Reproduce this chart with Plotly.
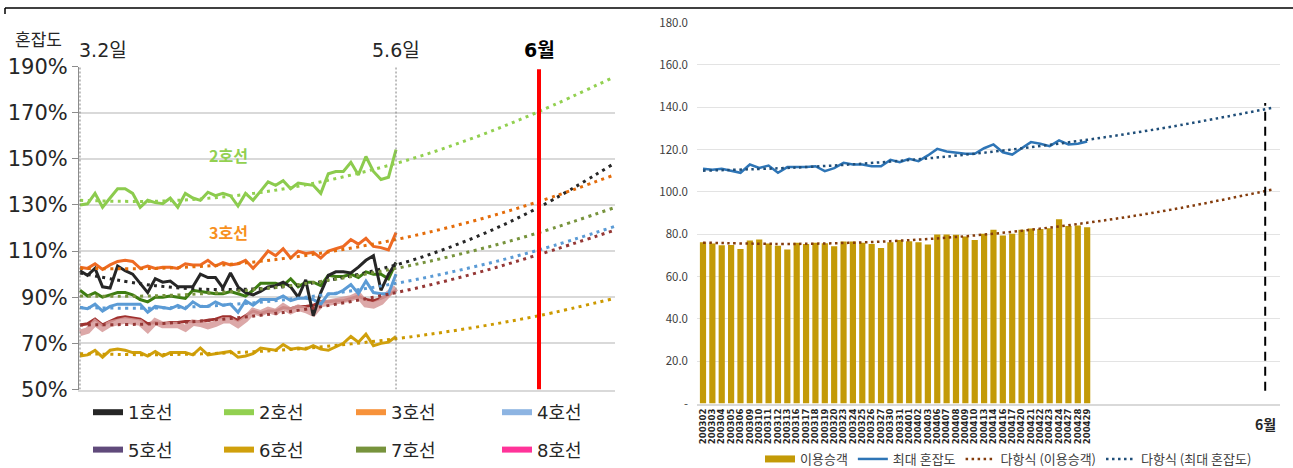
import plotly.graph_objects as go

W, H = 1293, 468

# ---------------- left chart data (혼잡도 by line, 3.2 ~ 5.6) ----------------
line1 = [101.5, 99.5, 102.5, 94.5, 94, 103.5, 101.5, 100, 96, 92, 98, 96.5, 97, 94.5, 94.5, 94.5, 100, 98.5, 98.5, 94,
         100.5, 94.5, 92, 91, 92.5, 94.5, 95, 96.5, 94.5, 90, 97.5, 82, 92, 99.5, 101, 101, 100.5, 103, 106, 108,
         93, 100, 105]
line2 = [130, 130.5, 135, 129, 133, 137, 137, 135, 129, 132, 131, 130.5, 133, 129, 135, 133, 132, 135.5, 134, 135,
         134, 129.5, 135, 132, 136, 140, 138.5, 140.5, 137, 139.5, 139, 138.5, 135, 143.5, 144.5, 144.5, 148.5, 143, 151, 144.5,
         141, 142, 154]
line3 = [103, 102.5, 104.5, 102, 104, 105.5, 106, 105.5, 102.5, 103.5, 102.5, 103, 103, 102.5, 104.5, 104, 104, 106, 103.5, 105,
         104, 104.5, 106, 102.5, 106, 110, 108, 111, 107, 110, 109, 109.5, 107, 110, 111, 112, 115, 113, 115.5, 112,
         111.5, 110.5, 118]
line4 = [85.5, 85, 87, 84, 86, 87, 87, 87, 87, 83.5, 86, 85.5, 85, 86.5, 85, 88, 86, 86, 88, 86.5,
         87, 83.5, 88.5, 86.5, 89, 89, 89, 90.5, 88.5, 89.5, 89.5, 89, 87, 91.5, 91.5, 93, 95.5, 91.5, 97, 92,
         91.5, 91.5, 100]
line5 = [78, 78.5, 80.5, 78, 79.5, 81, 81.5, 81, 80.5, 78.5, 79, 78.5, 79, 79, 79.5, 79.5, 79.5, 80, 80.5, 81.5,
         81.5, 80, 82, 84, 83, 84, 84, 85.5, 85, 86, 86, 86.5, 88, 88, 88.5, 88.5, 89.5, 90.5, 89, 88.5,
         89.5, 91, 93]
line6 = [64.5, 65, 67, 64, 67, 67.5, 67, 66, 66, 64.5, 66.5, 64.5, 66, 66, 66, 65, 68, 65, 65.5, 66,
         66.5, 64, 64.5, 65.5, 68, 67.5, 67, 69.5, 67.5, 68, 67.5, 69, 67.5, 67, 68.5, 70, 73, 70.5, 74, 69,
         70, 70.5, 73]
line7 = [93, 90.5, 92, 90, 91, 92, 92, 91, 89, 88, 90, 90, 90.5, 90, 89.5, 93, 92.5, 92, 91.5, 91.5,
         92.5, 91.5, 90.5, 93, 96, 96, 96, 95, 98, 94.5, 96.5, 96.5, 95, 99.5, 99, 99, 100, 98.5, 101, 100,
         100, 98, 105]
line8 = [74.5, 75.5, 79, 76.5, 78.5, 79, 80, 79.5, 79, 76, 79.5, 78, 78, 78, 76.5, 79, 78.5, 77.5, 78.5, 80,
         80, 78, 80.5, 84, 83, 84.5, 83.5, 86, 84, 85.5, 84.5, 83, 87, 87.5, 88.5, 88.5, 89.5, 91, 87, 86.5,
         88, 91.5, 94]

# polynomial trend lines (다항식), values read at these day positions
left_trend_x = [0, 10, 20, 30, 42, 52, 61, 71]
trend1 = [100.5, 95.0, 93.3, 95.7, 104.0, 115.3, 129.0, 148.0]
trend2 = [132.0, 131.6, 133.8, 138.7, 148.0, 158.7, 170.5, 185.5]
trend3 = [102.5, 102.5, 104.3, 108.1, 115.0, 122.8, 131.5, 143.0]
trend4 = [85.5, 85.3, 86.8, 90.0, 96.0, 102.9, 110.5, 120.6]
trend5 = [78.0, 78.5, 80.8, 84.8, 92.0, 99.9, 108.5, 119.0]
trend6 = [65.5, 65.1, 65.9, 67.9, 72.0, 76.7, 82.0, 89.5]
trend7 = [90.5, 90.6, 92.4, 95.9, 102.5, 109.9, 118.0, 128.8]

left_legend_names = ['1호선', '2호선', '3호선', '4호선', '5호선', '6호선', '7호선', '8호선']
left_yticks = [50, 70, 90, 110, 130, 150, 170, 190]
left_ylabels = ['50%', '70%', '90%', '110%', '130%', '150%', '170%', '190%']
mark_start, mark_end, mark_june = 0, 42, 61

# ---------------- right chart data ----------------
dates = ['200302', '200303', '200304', '200305', '200306', '200309', '200310', '200311', '200312', '200313',
         '200316', '200317', '200318', '200319', '200320', '200323', '200324', '200325', '200326', '200327',
         '200330', '200331', '200401', '200402', '200403', '200406', '200407', '200408', '200409', '200410',
         '200413', '200414', '200416', '200417', '200420', '200421', '200422', '200423', '200424', '200427',
         '200428', '200429']
riders = [76.2, 75.6, 74.8, 74.9, 73.0, 77.0, 77.5, 75.6, 74.5, 72.7, 75.9, 75.4, 75.9, 75.7, 74.3, 76.5, 76.5,
          75.9, 75.4, 73.5, 76.2, 77.2, 76.7, 76.2, 75.1, 79.8, 79.8, 79.7, 78.9, 77.2, 80.2, 82.1, 79.4, 80.2,
          82.1, 82.7, 82.4, 82.8, 87.1, 83.8, 84.1, 83.3]
max_cong = [110.9, 110.4, 110.9, 110.1, 109.0, 112.9, 111.3, 112.4, 109.0, 111.7, 111.7, 111.7, 112.1, 109.8,
            111.2, 113.7, 112.9, 112.9, 112.1, 112.1, 115.1, 114.0, 115.6, 114.5, 117.2, 120.3, 119.1, 118.7,
            118.0, 118.0, 120.6, 122.4, 118.7, 117.6, 120.6, 123.5, 122.7, 121.6, 124.3, 122.4, 122.7, 123.8]
right_trend_x = [0, 10, 20, 30, 41, 50, 61]
riders_trend = [76.0, 75.4, 76.7, 79.8, 85.4, 91.6, 101.3]
cong_trend = [110.0, 111.5, 114.3, 118.5, 124.6, 130.8, 139.9]
right_yticks = [0, 20, 40, 60, 80, 100, 120, 140, 160, 180]
right_ylabels = ['-', '20.0', '40.0', '60.0', '80.0', '100.0', '120.0', '140.0', '160.0', '180.0']
right_legend_names = ['이용승객', '최대 혼잡도', '다항식 (이용승객)', '다항식 (최대 혼잡도)']
june_idx = 60

# ---------------- styling ----------------
COND = "Liberation Sans Narrow, DejaVu Sans, Noto Sans CJK KR, sans-serif"
KR = "Noto Sans CJK KR, Noto Sans, sans-serif"

line_colors = ['#262626', '#8CCB4E', '#EE6A24', '#5B9BD5', '#A0302E', '#D0A00C', '#3E7D12', '#D69A99']
legend_colors = ['#262626', '#92D050', '#F7923A', '#8DB4E2', '#604A7B', '#D0A00C', '#77933C', '#FF3399']
trend_colors = ['#262626', '#92D050', '#E46C0A', '#5B9BD5', '#953735', '#CC9900', '#77933C']

def px(xp):
    return xp / W

def py(yp):
    return 1 - yp / H

fig = go.Figure()

left_x = list(range(len(line1)))
series = [line1, line2, line3, line4, line5, line6, line7, line8]
draw_order = [4, 7, 5, 3, 6, 2, 1, 0]
for k in draw_order:
    width = 6.5 if k == 7 else 3
    fig.add_trace(go.Scatter(x=left_x, y=series[k], mode='lines',
                             line=dict(color=line_colors[k], width=width),
                             opacity=0.85 if k == 7 else 1,
                             showlegend=False, hoverinfo='skip', xaxis='x', yaxis='y'))

trends = [trend1, trend2, trend3, trend4, trend5, trend6, trend7]
for k, tr in enumerate(trends):
    fig.add_trace(go.Scatter(x=left_trend_x, y=tr, mode='lines',
                             line=dict(color=trend_colors[k], width=3, dash='3px,4.5px', shape='spline'),
                             showlegend=False, hoverinfo='skip', xaxis='x', yaxis='y'))

# left legend: four columns, two rows each
col_legends = ['legend', 'legend3', 'legend4', 'legend5']
for k, name in enumerate(left_legend_names):
    fig.add_trace(go.Scatter(x=[None], y=[None], mode='lines', name=name,
                             line=dict(color=legend_colors[k], width=6),
                             legend=col_legends[k % 4], legendgroup=name,
                             xaxis='x', yaxis='y'))

# right chart
idx = list(range(len(dates)))
fig.add_trace(go.Bar(x=idx, y=riders, marker=dict(color='#C39A07', line=dict(width=0)), width=0.66,
                     showlegend=False, hoverinfo='skip', xaxis='x2', yaxis='y2'))
fig.add_trace(go.Scatter(x=idx, y=max_cong, mode='lines', line=dict(color='#2E75B6', width=2.5),
                         showlegend=False, hoverinfo='skip', xaxis='x2', yaxis='y2'))
fig.add_trace(go.Scatter(x=right_trend_x, y=riders_trend, mode='lines',
                         line=dict(color='#843C0C', width=2.5, dash='2.5px,3.5px', shape='spline'),
                         showlegend=False, hoverinfo='skip', xaxis='x2', yaxis='y2'))
fig.add_trace(go.Scatter(x=right_trend_x, y=cong_trend, mode='lines',
                         line=dict(color='#1F4E79', width=2.5, dash='2.5px,3.5px', shape='spline'),
                         showlegend=False, hoverinfo='skip', xaxis='x2', yaxis='y2'))

# right legend
fig.add_trace(go.Scatter(x=[None], y=[None], mode='lines', name=right_legend_names[0],
                         line=dict(color='#C39A07', width=7), legend='legend2', xaxis='x2', yaxis='y2'))
fig.add_trace(go.Scatter(x=[None], y=[None], mode='lines', name=right_legend_names[1],
                         line=dict(color='#2E75B6', width=2.5), legend='legend2', xaxis='x2', yaxis='y2'))
fig.add_trace(go.Scatter(x=[None], y=[None], mode='lines', name=right_legend_names[2],
                         line=dict(color='#843C0C', width=2.5, dash='2.5px,3.5px'), legend='legend2',
                         xaxis='x2', yaxis='y2'))
fig.add_trace(go.Scatter(x=[None], y=[None], mode='lines', name=right_legend_names[3],
                         line=dict(color='#1F4E79', width=2.5, dash='2.5px,3.5px'), legend='legend2',
                         xaxis='x2', yaxis='y2'))

shapes = [
    # top frame line
    dict(type='line', xref='paper', yref='paper', x0=px(5), x1=1, y0=py(8), y1=py(8),
         line=dict(color='#000000', width=1.5)),
    dict(type='line', xref='paper', yref='paper', x0=px(5), x1=px(5), y0=py(8), y1=py(14),
         line=dict(color='#000000', width=1.5)),
    # left: date markers
    dict(type='line', xref='x', yref='y', x0=mark_start, x1=mark_start, y0=50, y1=190,
         line=dict(color='#7F7F7F', width=1, dash='2px,2px')),
    dict(type='line', xref='x', yref='y', x0=mark_end, x1=mark_end, y0=50, y1=190,
         line=dict(color='#7F7F7F', width=1, dash='2px,2px')),
    dict(type='line', xref='x', yref='y', x0=mark_june, x1=mark_june, y0=50, y1=188.8,
         line=dict(color='#FF0000', width=4)),
    # right: June marker
    dict(type='line', xref='x2', yref='y2', x0=june_idx, x1=june_idx, y0=6, y1=142,
         line=dict(color='#000000', width=2, dash='9px,6px')),
]

annotations = [
    dict(text='혼잡도', x=px(38), y=py(38), xref='paper', yref='paper', showarrow=False,
         xanchor='center', yanchor='middle', font=dict(family=KR, size=17, color='#262626')),
    dict(text='3.2일', x=mark_start, y=py(50), xref='x', yref='paper', xanchor='left', yanchor='middle',
         showarrow=False, xshift=-3, font=dict(family=COND, size=19, color='#262626')),
    dict(text='5.6일', x=mark_end, y=py(50), xref='x', yref='paper', xanchor='center', yanchor='middle',
         showarrow=False, font=dict(family=COND, size=19, color='#262626')),
    dict(text='<b>6월</b>', x=mark_june, y=py(50), xref='x', yref='paper', xanchor='center',
         yanchor='middle', showarrow=False, font=dict(family=COND, size=19, color='#000000')),
    dict(text='<b>2호선</b>', x=19.7, y=151.5, xref='x', yref='y', xanchor='center', yanchor='middle',
         showarrow=False, font=dict(family=KR, size=16, color='#92D050')),
    dict(text='<b>3호선</b>', x=19.7, y=118.3, xref='x', yref='y', xanchor='center', yanchor='middle',
         showarrow=False, font=dict(family=KR, size=16, color='#F79020')),
    dict(text='<b>6월</b>', x=june_idx, y=py(424), xref='x2', yref='paper', xanchor='center',
         yanchor='middle', showarrow=False, font=dict(family=KR, size=14, color='#262626')),
]

legend_font = dict(family=COND, size=18, color='#262626')
col_px = [88, 219, 351, 497]
left_legends = {}
for name, cx in zip(col_legends, col_px):
    left_legends[name] = dict(orientation='v', x=px(cx), y=py(394), xanchor='left', yanchor='top',
                              bgcolor='rgba(0,0,0,0)', font=legend_font, tracegroupgap=11,
                              traceorder='grouped')

fig.update_layout(
    width=W, height=H,
    margin=dict(l=0, r=0, t=0, b=0, autoexpand=False),
    paper_bgcolor='white', plot_bgcolor='white',
    xaxis=dict(domain=[px(79), px(615)], range=[-0.13, 71.1], showgrid=False, zeroline=False,
               showticklabels=False, ticks='', showline=True, linecolor='#D9D9D9', linewidth=1.5,
               fixedrange=True, automargin=False),
    yaxis=dict(domain=[py(389.5), py(66.5)], range=[50, 190], tickvals=left_yticks, ticktext=left_ylabels,
               showgrid=True, gridcolor='#D9D9D9', gridwidth=1.5, zeroline=False,
               showline=True, linecolor='#8C8C8C', linewidth=1, ticks='outside', ticklen=6,
               tickcolor='#8C8C8C', ticklabelstandoff=0, automargin=False,
               tickfont=dict(family=COND, size=21, color='#262626'), fixedrange=True),
    xaxis2=dict(domain=[px(697), px(1280)], range=[-0.64, 61.58], tickvals=idx, ticktext=dates,
                tickangle=-90, tickfont=dict(family=COND, size=8.5, color='#262626', weight='bold'),
                showgrid=False, zeroline=False, showline=True, linecolor='#D9D9D9', linewidth=1.5,
                ticks='', anchor='y2', fixedrange=True, automargin=False),
    yaxis2=dict(domain=[py(403.5), py(22.5)], range=[0, 180], tickvals=right_yticks, ticktext=right_ylabels,
                showgrid=True, gridcolor='#E3E3E3', gridwidth=1.2, zeroline=False, showline=False,
                tickfont=dict(family=KR, size=11.5, color='#404040'), anchor='x2', ticklabelstandoff=8,
                fixedrange=True, automargin=False),
    legend2=dict(orientation='h', x=px(760), y=py(459), xanchor='left', yanchor='middle',
                 bgcolor='rgba(0,0,0,0)', font=dict(family=KR, size=13, color='#404040'),
                 traceorder='normal'),
    shapes=shapes,
    annotations=annotations,
)
fig.update_layout(**left_legends)

fig.write_html('out.html', config={'displayModeBar': False})
